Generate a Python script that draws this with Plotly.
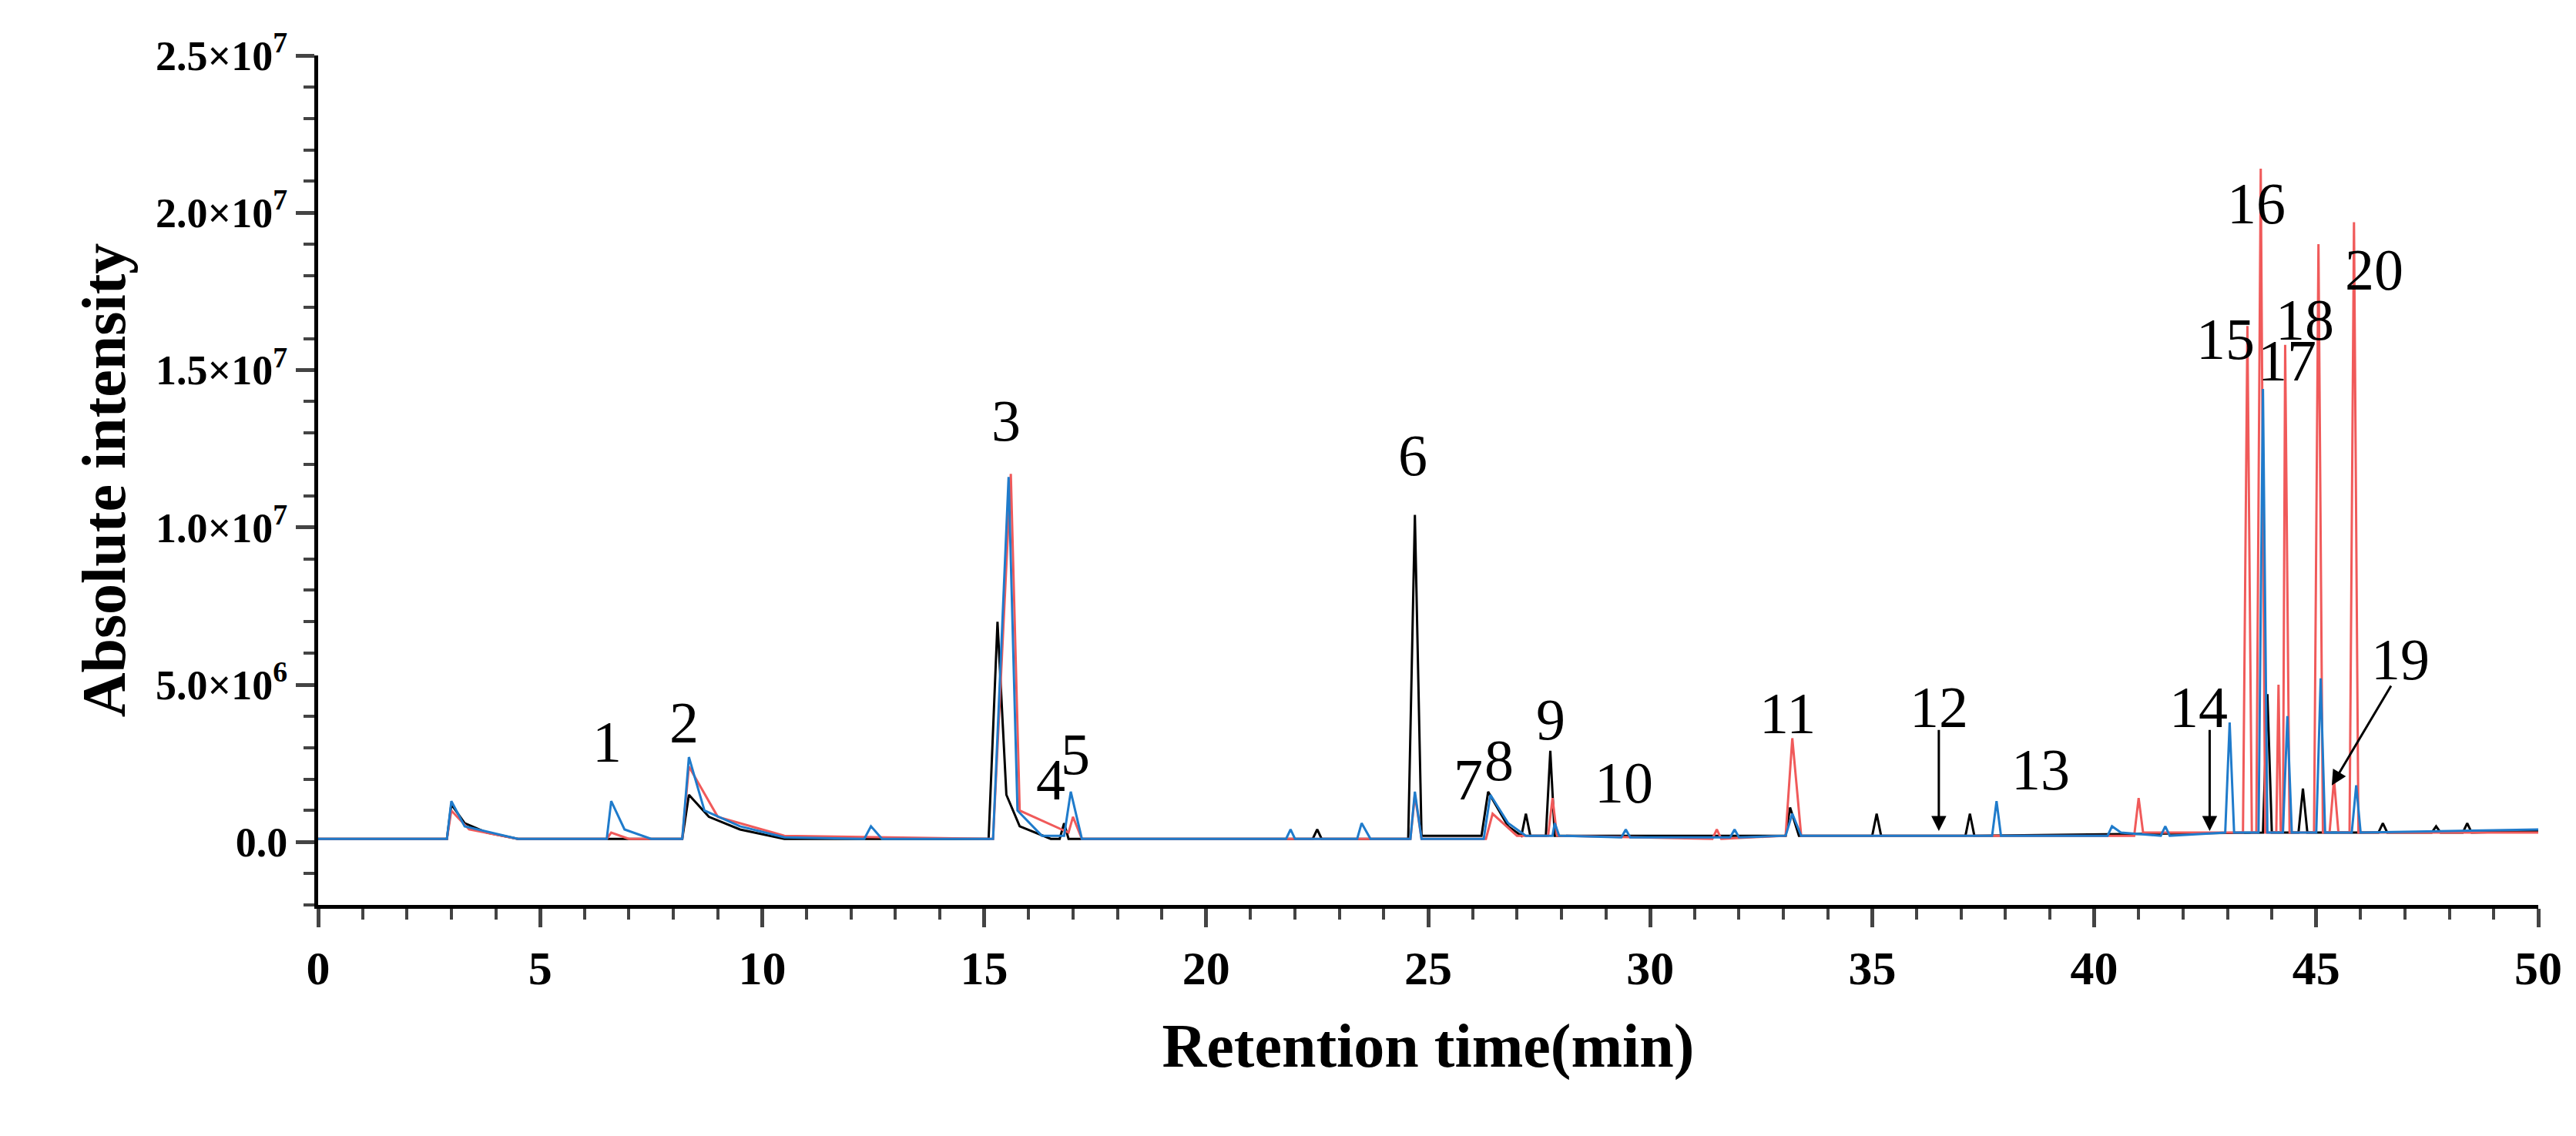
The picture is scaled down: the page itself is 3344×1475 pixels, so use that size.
import plotly.graph_objects as go

black_t = [0,2.9,3.0,3.3,3.8,4.5,8.2,8.35,8.8,9.5,10.5,15.1,15.3,15.5,15.8,16.5,16.7,16.8,16.9,22.4,22.5,22.6,24.55,24.7,24.85,26.2,26.35,26.8,27.1,27.2,27.3,27.65,27.75,27.85,33.05,33.15,33.35,35.0,35.1,35.2,37.1,37.2,37.3,43.8,43.9,44.0,44.6,44.7,44.8,46.4,46.5,46.6,47.6,47.7,47.8,48.3,48.4,48.5,50]
black_y = [0.1,0.1,1.2,0.6,0.3,0.1,0.1,1.5,0.8,0.4,0.1,0.1,7.0,1.5,0.5,0.1,0.1,0.6,0.1,0.1,0.4,0.1,0.1,10.4,0.2,0.2,1.6,0.5,0.2,0.9,0.2,0.2,2.9,0.2,0.2,1.1,0.2,0.2,0.9,0.2,0.2,0.9,0.2,0.3,4.7,0.3,0.3,1.7,0.3,0.3,0.6,0.3,0.3,0.5,0.3,0.3,0.6,0.3,0.35]

red_t = [0,2.9,3.0,3.4,4.5,6.5,6.6,7.0,8.2,8.35,9.0,10.5,15.2,15.6,15.8,16.9,17.0,17.2,24.6,24.7,24.85,26.3,26.45,27.0,27.7,27.8,27.9,31.4,31.5,31.6,33.05,33.2,33.4,40.9,41.0,41.1,43.35,43.45,43.55,43.65,43.75,43.85,44.1,44.15,44.2,44.25,44.3,44.4,44.95,45.05,45.15,45.3,45.4,45.5,45.75,45.85,45.95,50]
red_y = [0.1,0.1,1.0,0.4,0.1,0.1,0.3,0.1,0.1,2.4,0.8,0.2,0.1,11.7,1.0,0.3,0.8,0.1,0.1,1.5,0.1,0.1,0.9,0.2,0.2,1.4,0.2,0.1,0.4,0.1,0.2,3.3,0.2,0.2,1.4,0.3,0.3,16.4,0.3,0.3,21.4,0.3,0.3,5.0,0.3,0.3,15.8,0.3,0.3,19.0,0.3,0.3,2.0,0.3,0.3,19.7,0.3,0.3]

blue_t = [0,2.9,3.0,3.3,4.5,6.5,6.6,6.9,7.5,8.2,8.35,8.7,9.5,10.5,12.3,12.45,12.7,15.2,15.55,15.75,16.3,16.8,16.95,17.2,21.8,21.9,22.0,23.4,23.5,23.7,24.6,24.7,24.85,26.25,26.4,26.8,27.2,27.8,27.85,27.95,29.35,29.45,29.55,31.8,31.9,32.0,33.05,33.2,33.4,37.7,37.8,37.9,40.3,40.4,40.6,41.5,41.6,41.7,42.95,43.05,43.15,43.7,43.8,43.9,44.25,44.35,44.45,45.0,45.1,45.2,45.8,45.9,46.0,50]
blue_y = [0.1,0.1,1.3,0.5,0.1,0.1,1.3,0.4,0.1,0.1,2.7,1.0,0.5,0.15,0.1,0.5,0.1,0.1,11.6,1.0,0.2,0.2,1.6,0.1,0.1,0.4,0.1,0.1,0.6,0.1,0.1,1.6,0.1,0.1,1.5,0.6,0.2,0.2,0.6,0.2,0.15,0.4,0.15,0.15,0.4,0.15,0.2,0.9,0.2,0.2,1.3,0.2,0.2,0.5,0.3,0.2,0.5,0.2,0.3,3.8,0.3,0.3,14.4,0.3,0.3,4.0,0.3,0.3,5.2,0.3,0.3,1.8,0.3,0.4]

peak_labels = [str(i) for i in range(1, 21)]
label_x = [6.5,8.24,15.5,16.5,17.05,24.65,25.9,26.6,27.75,29.4,33.1,36.5,38.8,42.35,42.95,43.65,44.35,44.75,46.9,46.3]
label_y = [3.2,3.8,13.4,2.0,2.8,12.3,2.0,2.6,3.9,1.9,4.1,4.3,2.3,4.3,16.0,20.3,15.3,16.6,5.8,18.2]

y_tick_vals = [0, 5, 10, 15, 20, 25]
y_tick_text = ["0.0", "5.0×10<sup>6</sup>", "1.0×10<sup>7</sup>", "1.5×10<sup>7</sup>", "2.0×10<sup>7</sup>", "2.5×10<sup>7</sup>"]

M = 1e6
fig = go.Figure()
for t, y, c in [(black_t, black_y, "#000000"), (red_t, red_y, "#F05A5A"), (blue_t, blue_y, "#1F7BCB")]:
    fig.add_trace(go.Scatter(x=t, y=[v * M for v in y], mode="lines", line=dict(color=c, width=3), showlegend=False))

font = "Liberation Serif, Times New Roman, serif"
for s, x, y in zip(peak_labels, label_x, label_y):
    fig.add_annotation(x=x, y=y * M, text=s, showarrow=False, font=dict(family=font, size=76, color="black"))

arrows = [(36.5, 3.6, 36.5, 0.35), (42.6, 3.6, 42.6, 0.35), (46.7, 5.0, 45.35, 1.8)]
for x0, y0, x1, y1 in arrows:
    fig.add_annotation(x=x1, y=y1 * M, ax=x0, ay=y0 * M, axref="x", ayref="y", xref="x", yref="y",
                       text="", showarrow=True, arrowhead=2, arrowsize=1.3, arrowwidth=3, arrowcolor="black")

fig.update_layout(
    width=3344, height=1475, paper_bgcolor="white", plot_bgcolor="white",
    margin=dict(l=405, r=57, t=64, b=308),
    font=dict(family=font, color="black"),
)
fig.update_xaxes(range=[0, 50], showline=True, linecolor="black", linewidth=5, zeroline=False, showgrid=False,
                 ticks="outside", ticklen=24, tickwidth=5, dtick=5, tick0=0,
                 minor=dict(ticks="outside", ticklen=14, tickwidth=4, dtick=1),
                 tickfont=dict(family=font, size=62, color="black", weight="bold"),
                 title=dict(text="<b>Retention time(min)</b>", font=dict(family=font, size=80), standoff=40))
fig.update_yaxes(range=[-2 * M, 25 * M], showline=True, linecolor="black", linewidth=5, zeroline=False, showgrid=False,
                 ticks="outside", ticklen=24, tickwidth=5,
                 tickvals=[v * M for v in y_tick_vals], ticktext=y_tick_text,
                 minor=dict(ticks="outside", ticklen=14, tickwidth=4, dtick=M, tick0=0),
                 tickfont=dict(family=font, size=54, color="black", weight="bold"),
                 title=dict(text="<b>Absolute intensity</b>", font=dict(family=font, size=80), standoff=15))
fig.write_html("out.html")
